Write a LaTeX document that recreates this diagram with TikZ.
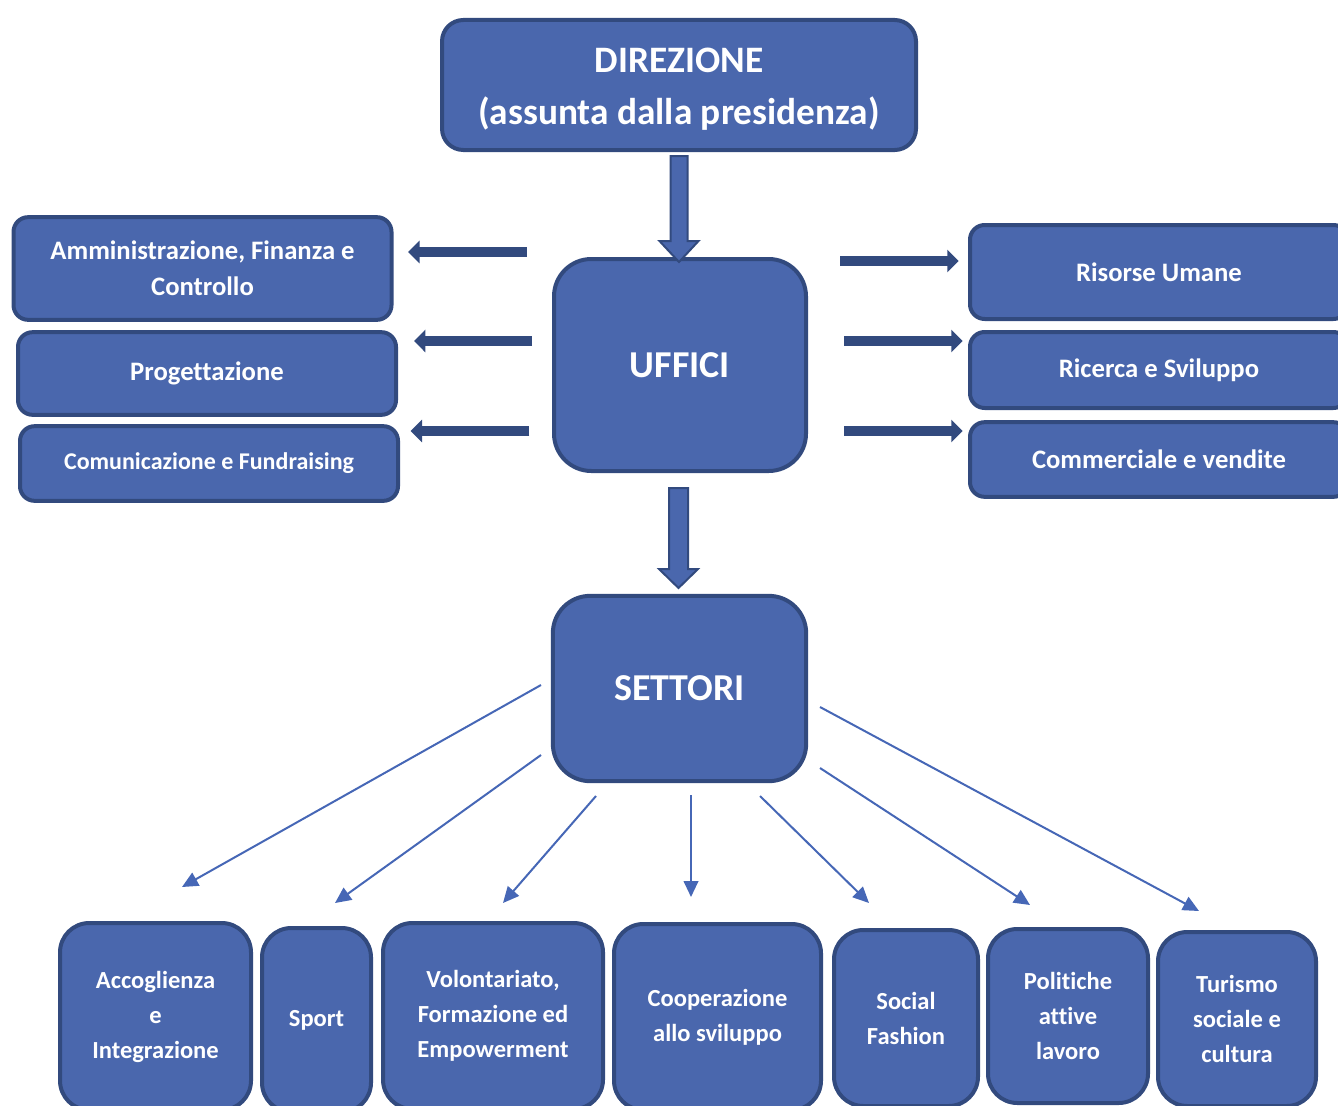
\documentclass[tikz,border=0pt]{standalone}
\usepackage{fontspec}
\setmainfont{Carlito}[Ligatures={NoCommon,NoContextual},Contextuals=NoAlternate]
\usetikzlibrary{arrows.meta,calc}

\definecolor{boxfill}{RGB}{74,103,173}
\definecolor{boxline}{RGB}{50,74,126}
\definecolor{thinblue}{RGB}{70,103,182}

\begin{document}
\begin{tikzpicture}[x=0.75pt,y=-0.75pt,
box/.style={rectangle, draw=boxline, fill=boxfill, line width=3pt, text=white, align=center, inner sep=0pt},
topbox/.style={box, rounded corners=16pt, text height=66pt, text depth=7pt, font=\fontsize{28}{39}\bfseries\selectfont},
hubbox/.style={box, rounded corners=28pt, font=\fontsize{28.5}{34}\bfseries\selectfont},
sidebox/.style={box, rounded corners=11pt, minimum width=283.5pt, font=\fontsize{20}{27}\bfseries\selectfont},
secbox/.style={box, rounded corners=22pt, font=\fontsize{18.4}{26.25}\bfseries\selectfont},
bigarrow/.style={draw=boxline, fill=boxfill, line width=1.5pt, line join=miter},
sidearrow/.style={draw=boxline, line width=7.5pt, -{Triangle[length=8.5pt,width=16.5pt]}},
thinarrow/.style={draw=thinblue, line width=1.5pt, -{Triangle[length=12pt,width=11pt]}},
]
\clip (0,0) rectangle (1338,1106);

% direzione, uffici, settori
\node[topbox, minimum width=355.5pt, minimum height=97.5pt] (dir) at (679,85) {DIREZIONE\\(assunta dalla presidenza)};
\node[hubbox, minimum width=189pt, minimum height=159pt] (uff) at (680,365) {UFFICI};
\node[hubbox, minimum width=190pt, minimum height=139pt] (sett) at (679.5,688.5) {SETTORI};

% uffici a sinistra
\node[sidebox, minimum height=77pt] (amm) at (202.5,268.5) {Amministrazione, Finanza e\\Controllo};
\node[sidebox, minimum height=62pt] (prog) at (207,373.5) {Progettazione};
\node[sidebox, minimum height=56pt, font=\fontsize{18}{27}\bfseries\selectfont] (com) at (209,463.5) {Comunicazione e Fundraising};

% uffici a destra
\node[sidebox, minimum height=70.5pt] (ris) at (1159,272) {Risorse Umane};
\node[sidebox, minimum height=57pt] (ric) at (1159,370) {Ricerca e Sviluppo};
\node[sidebox, minimum height=56pt] (comm) at (1159,459.5) {Commerciale e vendite};

% settori
\node[secbox, minimum width=143.25pt, minimum height=140.25pt] (acc) at (155.5,1016.5) {Accoglienza\\e\\Integrazione};
\node[secbox, minimum width=81.75pt, minimum height=138pt] (sport) at (316.5,1020) {Sport};
\node[secbox, minimum width=165pt, minimum height=139.5pt] (vol) at (493,1016) {Volontariato,\\Formazione ed\\Empowerment};
\node[secbox, minimum width=155.25pt, minimum height=139.5pt] (coop) at (717.5,1017) {Cooperazione\\allo sviluppo};
\node[secbox, minimum width=108pt, minimum height=132pt] (soc) at (906,1018) {Social\\Fashion};
\node[secbox, minimum width=120pt, minimum height=130.5pt] (pol) at (1068,1016) {Politiche\\attive\\lavoro};
\node[secbox, minimum width=118.5pt, minimum height=130.5pt] (tur) at (1237,1019) {Turismo\\sociale e\\cultura};

% frecce grandi
\draw[bigarrow] (dir.south) ++(-8.5,4) -- ++(0,85) -- ++(-11,0) -- ++(19.5,21)
  -- ++(19.5,-21) -- ++(-11,0) -- ++(0,-85) -- cycle;
\draw[bigarrow] (uff.south) ++(-11,15) -- ++(0,81) -- ++(-10,0) -- ++(19.5,19)
  -- ++(19.5,-19) -- ++(-10,0) -- ++(0,-81) -- cycle;

% frecce laterali
\draw[sidearrow, shorten <=19pt, shorten >=11pt] (uff.west |- 0,252) -- (amm.east |- 0,252);
\draw[sidearrow, shorten <=15pt, shorten >=12pt] (uff.west |- 0,341) -- (prog.east |- 0,341);
\draw[sidearrow, shorten <=17pt, shorten >=8pt] (uff.west |- 0,431) -- (com.east |- 0,431);
\draw[sidearrow, shorten <=24pt, shorten >=7pt] (uff.east |- 0,261) -- (ris.west |- 0,261);
\draw[sidearrow, shorten <=27pt, shorten >=4pt] (uff.east |- 0,341) -- (ric.west |- 0,341);
\draw[sidearrow, shorten <=27pt, shorten >=4pt] (uff.east |- 0,431) -- (comm.west |- 0,431);

% frecce verso i settori
\coordinate (s1) at (541,685);  \coordinate (e1) at (182,887);
\coordinate (s2) at (541,755);  \coordinate (e2) at (335,903);
\coordinate (s3) at (596,796);  \coordinate (e3) at (503,903);
\coordinate (s4) at (691,795);  \coordinate (e4) at (691,897);
\coordinate (s5) at (760,796);  \coordinate (e5) at (869,903);
\coordinate (s6) at (820,768);  \coordinate (e6) at (1030,905);
\coordinate (s7) at (820,707);  \coordinate (e7) at (1199,911);
\foreach \i in {1,...,7}
  \draw[thinarrow] (s\i) -- (e\i);
\end{tikzpicture}
\end{document}
